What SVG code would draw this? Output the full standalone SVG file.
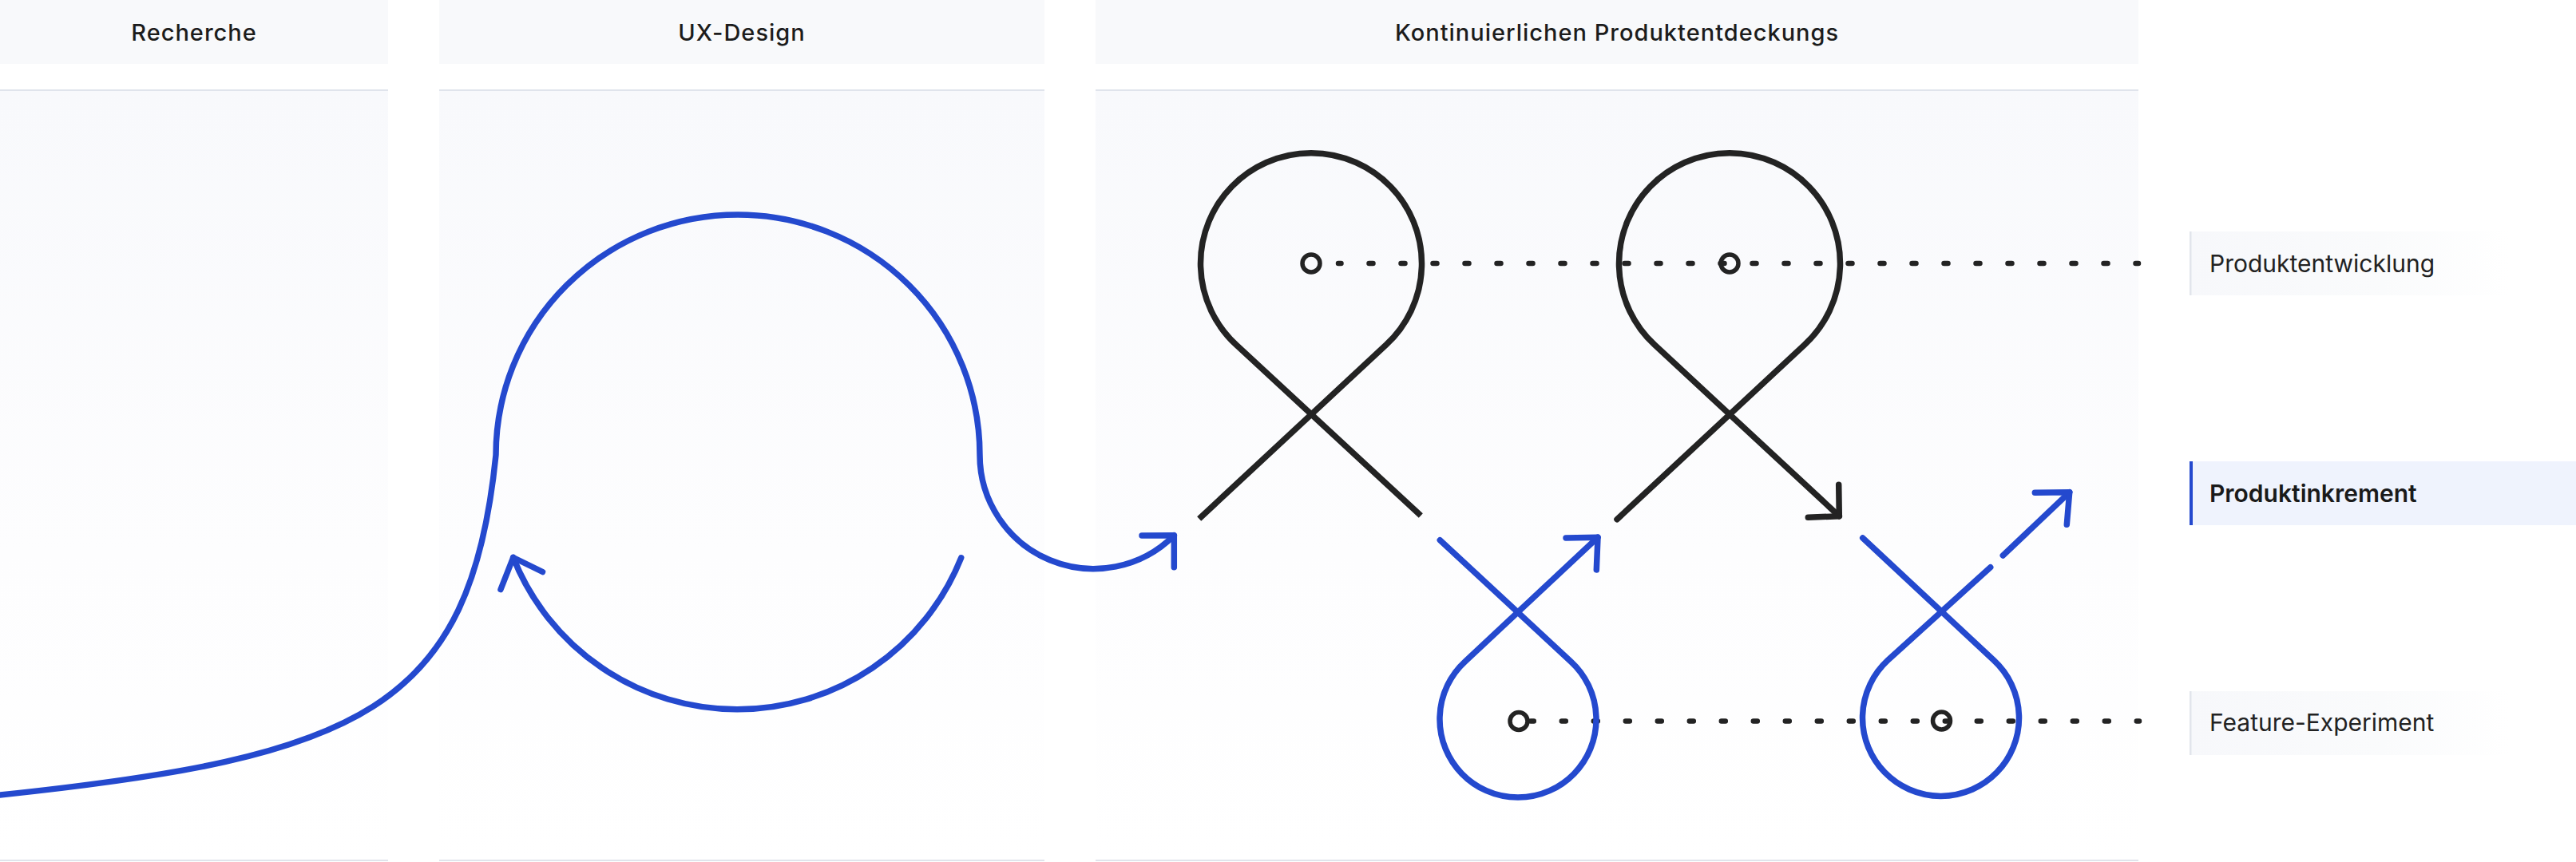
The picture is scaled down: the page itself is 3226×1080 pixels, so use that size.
<svg xmlns="http://www.w3.org/2000/svg" width="3226" height="1080" viewBox="0 0 3226 1080">
  <defs>
    <linearGradient id="colBody" x1="0" y1="0" x2="0" y2="1">
      <stop offset="0" stop-color="#f8f9fc"/>
      <stop offset="0.6" stop-color="#fdfdfe"/>
      <stop offset="1" stop-color="#ffffff"/>
    </linearGradient>
    <linearGradient id="lblFade" x1="0" y1="0" x2="1" y2="0">
      <stop offset="0" stop-color="#f7f8fb"/>
      <stop offset="0.6" stop-color="#fafbfc"/>
      <stop offset="1" stop-color="#ffffff"/>
    </linearGradient>
    <style>
      .hdrbg { fill: #f8f9fb; }
      .body { fill: url(#colBody); }
      .rule { fill: #e0e4ec; }
      .hdr { font-family: Inter, "Liberation Sans", sans-serif; font-size: 29px; font-weight: 500; fill: #1c1c1c; text-anchor: middle; letter-spacing: 1px; }
      .lbl { font-family: Inter, "Liberation Sans", sans-serif; font-size: 30px; font-weight: 400; fill: #222222; }
      .lbl-strong { font-weight: 600; fill: #1a1a1a; }
      .blue { fill: none; stroke: #2449ce; stroke-width: 7.5; stroke-linecap: round; stroke-linejoin: round; }
      .black { fill: none; stroke: #232323; stroke-width: 7.5; stroke-linecap: round; stroke-linejoin: round; }
      .butt { stroke-linecap: butt; }
      .dots { fill: none; stroke: #232323; stroke-width: 6.5; stroke-linecap: round; stroke-dasharray: 5 35; }
      .dot { fill: none; stroke: #232323; stroke-width: 5.5; }
    </style>
  </defs>

  <rect x="0" y="0" width="3226" height="1080" fill="#ffffff"/>

  <!-- Phase columns -->
  <g id="phase-recherche">
    <rect class="hdrbg" x="0" y="0" width="486" height="80"/>
    <rect class="rule" x="0" y="112" width="486" height="2"/>
    <rect class="body" x="0" y="114" width="486" height="963"/>
    <rect class="rule" x="0" y="1077" width="486" height="2"/>
    <text class="hdr" x="243" y="50.5">Recherche</text>
  </g>
  <g id="phase-ux-design">
    <rect class="hdrbg" x="550" y="0" width="758" height="80"/>
    <rect class="rule" x="550" y="112" width="758" height="2"/>
    <rect class="body" x="550" y="114" width="758" height="963"/>
    <rect class="rule" x="550" y="1077" width="758" height="2"/>
    <text class="hdr" x="929" y="50.5">UX-Design</text>
  </g>
  <g id="phase-produktentdeckung">
    <rect class="hdrbg" x="1372" y="0" width="1306" height="80"/>
    <rect class="rule" x="1372" y="112" width="1306" height="2"/>
    <rect class="body" x="1372" y="114" width="1306" height="963"/>
    <rect class="rule" x="1372" y="1077" width="1306" height="2"/>
    <text class="hdr" x="2025" y="50.5">Kontinuierlichen Produktentdeckungs</text>
  </g>

  <!-- Row labels -->
  <g id="label-produktentwicklung">
    <rect x="2742" y="290" width="400" height="80" fill="url(#lblFade)"/>
    <rect x="2742" y="290" width="2.5" height="80" fill="#e2e5ec"/>
    <text class="lbl" x="2767" y="340.5">Produktentwicklung</text>
  </g>
  <g id="label-produktinkrement">
    <rect x="2742" y="578" width="484" height="80" fill="#eff3fd"/>
    <rect x="2742" y="578" width="4" height="80" fill="#2449ce"/>
    <text class="lbl lbl-strong" x="2767" y="628.5">Produktinkrement</text>
  </g>
  <g id="label-feature-experiment">
    <rect x="2742" y="866" width="400" height="80" fill="url(#lblFade)"/>
    <rect x="2742" y="866" width="2.5" height="80" fill="#e2e5ec"/>
    <text class="lbl" x="2767" y="916">Feature-Experiment</text>
  </g>

  <!-- Milestone dots -->
  <g id="node-entwicklung-1"><circle class="dot" cx="1642" cy="330" r="11"/></g>
  <g id="node-entwicklung-2"><circle class="dot" cx="2166" cy="330" r="11"/></g>
  <g id="node-experiment-1"><circle class="dot" cx="1902" cy="903.5" r="11"/></g>
  <g id="node-experiment-2"><circle class="dot" cx="2431.5" cy="903" r="11"/></g>

  <!-- Connectors -->
  <g id="connectors">
    <path class="dots" d="M1676,330 H2678" stroke-dashoffset="1.5"/>
    <path class="dots" d="M1917,903.5 H2679" stroke-dashoffset="1.2"/>

    <!-- Research / UX path -->
    <path class="blue" d="M0,996 C450,948.5 589,890 621,570 A303,301 0 0 1 1227,570 A142.5,142.5 0 0 0 1470.3,670.8"/>
    <path class="blue" d="M1430,671 L1470.3,670.8 L1470.3,710.8"/>
    <path class="blue" d="M1203.7,698.8 A302,302 0 0 1 642.7,698.5"/>
    <path class="blue" d="M679.5,716.5 L642.7,698.5 L627,738.5"/>

    <!-- Development loops -->
    <path class="black butt" d="M1501.7,650 L1735.85,432 A138.5,138.5 0 1 0 1548.15,432 L1779.3,646"/>
    <path class="black" d="M2025,650.7 L2259.85,432 A138.5,138.5 0 1 0 2072.15,432 L2303.3,646.7"/>
    <path class="black" d="M2264.3,648.3 L2303.3,646.7 L2302.7,607.3"/>

    <!-- Experiment loops -->
    <path class="blue" d="M1803.3,676.7 L1967.1,828.7 A98,98 0 1 1 1834.9,828.7 L2001,673.3"/>
    <path class="blue" d="M1961,674 L2001,673.3 L1999.3,714"/>
    <path class="blue" d="M2332.7,674 L2496.9,827.3 A98,98 0 1 1 2364.1,827.3 L2492.7,710.7"/>
    <path class="blue" d="M2508.3,696 L2591.7,616.7"/>
    <path class="blue" d="M2548.3,617.3 L2591.7,616.7 L2588.3,657.3"/>
  </g>
</svg>
